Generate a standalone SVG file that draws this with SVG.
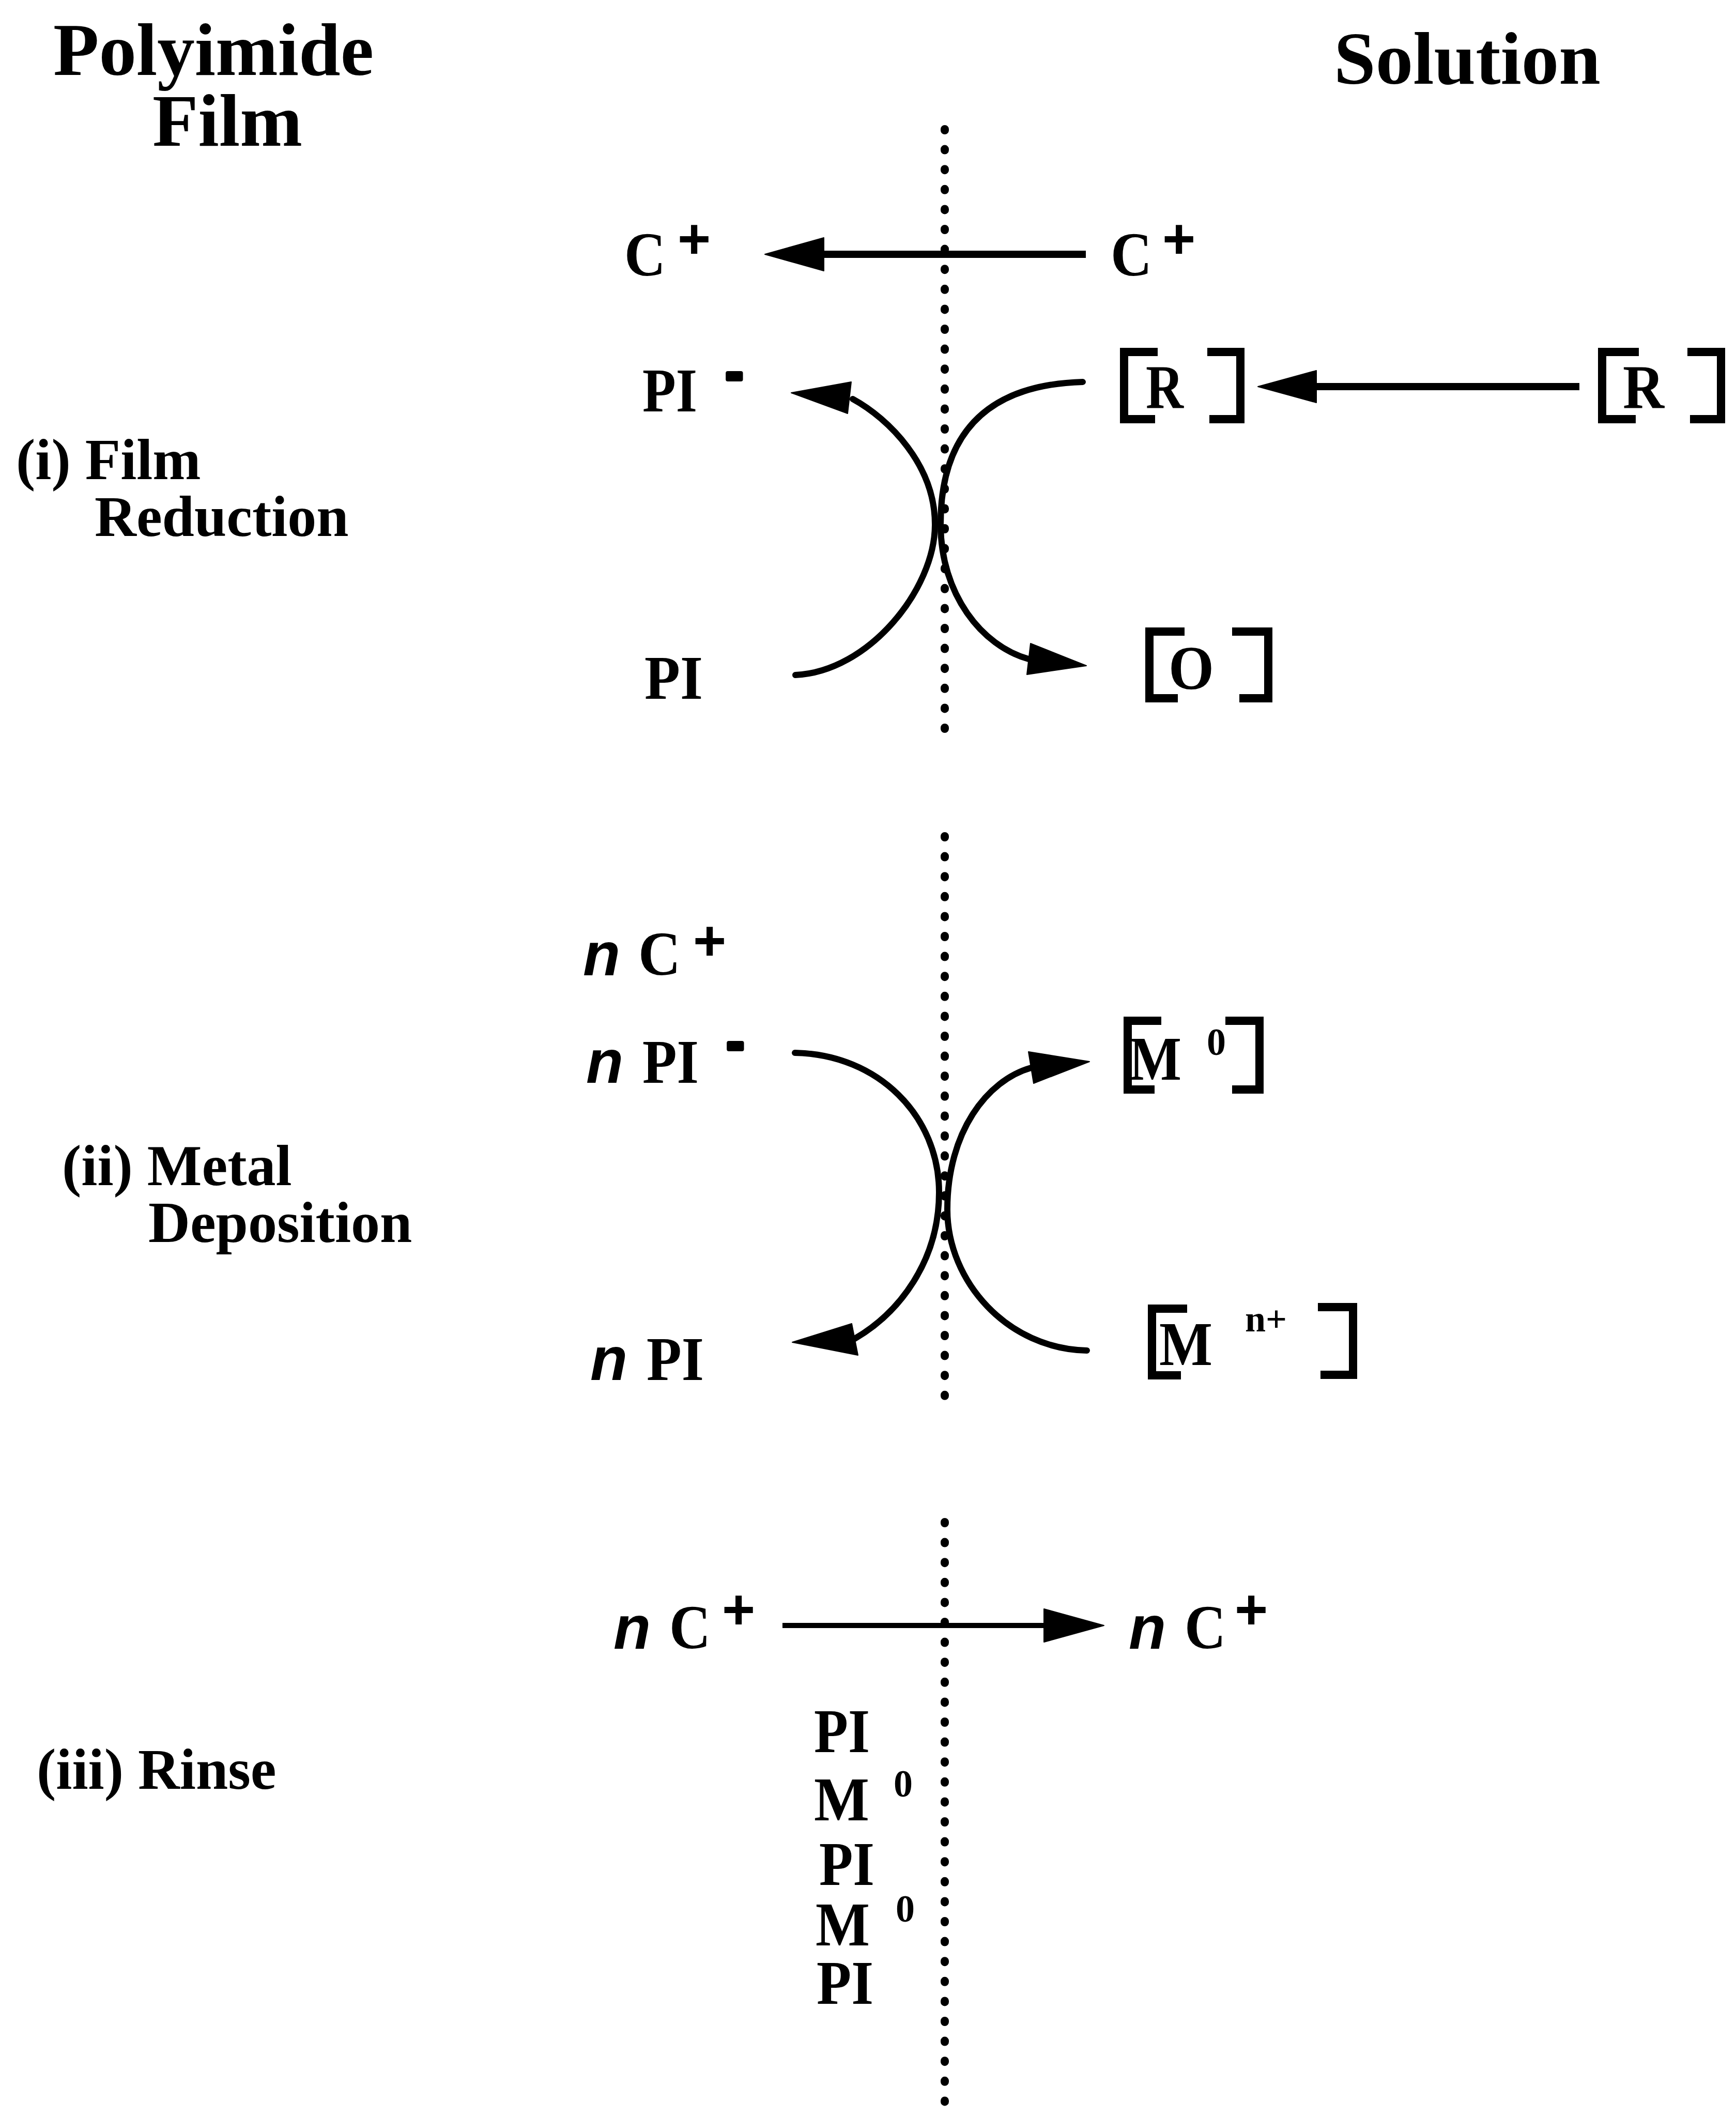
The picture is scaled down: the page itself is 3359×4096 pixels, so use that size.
<svg xmlns="http://www.w3.org/2000/svg" width="3359" height="4096" viewBox="0 0 3359 4096">
<style>
.t{font-family:"Liberation Serif","Times New Roman",serif;font-weight:bold;fill:#000}
.ttl{font-size:145px}
.lab{font-size:112px}
.chem{font-size:120px}
.s{font-family:"Liberation Sans",Arial,sans-serif;font-weight:bold;fill:#000}
.n{font-size:118px;font-style:italic}
.pl{font-size:110px}
.mi{font-size:100px;stroke:#000;stroke-width:8;stroke-linejoin:round}
.sup{font-size:72px}
.z{font-size:74px}
.br{fill:none;stroke:#000;stroke-width:16;stroke-linejoin:miter}
.ln{fill:none;stroke:#000;stroke-width:14}
.ln2{fill:none;stroke:#000;stroke-width:10}
.cv{fill:none;stroke:#000;stroke-width:12;stroke-linecap:round}
.hd{fill:#000;stroke:#000;stroke-width:2;stroke-linejoin:round}
.dot{fill:none;stroke:#000;stroke-width:16;stroke-linecap:round;stroke-dasharray:2 36.6}
</style>
<rect width="3359" height="4096" fill="#fff"/>

<g id="interface">
<line class="dot" x1="1828" y1="250" x2="1828" y2="1444"/>
<line class="dot" x1="1828" y1="1618" x2="1828" y2="2716"/>
<line class="dot" x1="1828" y1="2945" x2="1828" y2="4096"/>
</g>

<g id="headers">
<g id="title-film"><text class="t ttl" x="413" y="145" text-anchor="middle">Polyimide</text><text class="t ttl" x="440" y="282" text-anchor="middle">Film</text></g>
<g id="title-solution"><text class="t ttl" x="2839" y="162" text-anchor="middle">Solution</text></g>
<g id="step-i"><text class="t lab" x="31" y="927">(i) Film</text><text class="t lab" x="183" y="1037">Reduction</text></g>
<g id="step-ii"><text class="t lab" x="120" y="2293">(ii) Metal</text><text class="t lab" x="287" y="2403">Deposition</text></g>
<g id="step-iii"><text class="t lab" x="71" y="3461">(iii) Rinse</text></g>
</g>

<g id="connectors">
<line class="ln" x1="1590" y1="492" x2="2101" y2="492"/>
<polygon class="hd" points="1480,492 1594,460 1594,524"/>
<line class="ln" x1="2543" y1="748" x2="3056" y2="748"/>
<polygon class="hd" points="2434,748 2547,717 2547,779"/>
<path class="cv" d="M1539,1306 C1680,1300 1810,1140 1809,1014 C1809,900 1720,810 1650,772"/>
<polygon class="hd" points="1531,760 1647,739 1640,800"/>
<path class="cv" d="M2095,739 C1880,745 1820,870 1820,1014 C1820,1150 1900,1250 1990,1275"/>
<polygon class="hd" points="2102,1288 1994,1245 1987,1305"/>
<path class="cv" d="M1538,2037 C1700,2040 1817,2160 1817,2307 C1817,2440 1740,2540 1654,2590"/>
<polygon class="hd" points="1533,2597 1648,2561 1660,2622"/>
<path class="cv" d="M2103,2613 C1950,2610 1833,2480 1833,2340 C1833,2190 1910,2090 1995,2066"/>
<polygon class="hd" points="2108,2054 1990,2035 2000,2096"/>
<line class="ln2" x1="1514" y1="3145" x2="2024" y2="3145"/>
<polygon class="hd" points="2136,3145 2020,3113 2020,3177"/>
</g>

<g id="i-cation-film"><text class="t chem" x="1208" y="533" textLength="80" lengthAdjust="spacingAndGlyphs">C</text><text class="s pl" x="1311" y="500">+</text></g>
<g id="i-cation-sol"><text class="t chem" x="2149" y="533" textLength="80" lengthAdjust="spacingAndGlyphs">C</text><text class="s pl" x="2249" y="500">+</text></g>
<g id="i-pi-anion"><text class="t chem" x="1243" y="796" textLength="106" lengthAdjust="spacingAndGlyphs">PI</text><text class="s mi" x="1421" y="754" text-anchor="middle">-</text></g>
<g id="i-r-interface"><path class="br" d="M2240,681 H2175 V811 H2235"/><text class="t chem" x="2217" y="790" textLength="73" lengthAdjust="spacingAndGlyphs">R</text><path class="br" d="M2336,681 H2400 V811 H2340"/></g>
<g id="i-r-bulk"><path class="br" d="M3171,681 H3100 V811 H3165"/><text class="t chem" x="3140" y="790" textLength="80" lengthAdjust="spacingAndGlyphs">R</text><path class="br" d="M3265,681 H3330 V811 H3270"/></g>
<g id="i-pi"><text class="t chem" x="1247" y="1352" textLength="113" lengthAdjust="spacingAndGlyphs">PI</text></g>
<g id="i-o"><path class="br" d="M2292,1222 H2224 V1351 H2279"/><text class="t chem" x="2261" y="1333" textLength="88" lengthAdjust="spacingAndGlyphs">O</text><path class="br" d="M2384,1222 H2454 V1351 H2398"/></g>

<g id="ii-cation"><text class="s n" x="1128" y="1887">n</text><text class="t chem" x="1235" y="1886" textLength="82" lengthAdjust="spacingAndGlyphs">C</text><text class="s pl" x="1341" y="1858">+</text></g>
<g id="ii-pi-anion"><text class="s n" x="1134" y="2095">n</text><text class="t chem" x="1243" y="2095" textLength="109" lengthAdjust="spacingAndGlyphs">PI</text><text class="s mi" x="1423" y="2050" text-anchor="middle">-</text></g>
<g id="ii-m0"><path class="br" d="M2247,1975 H2182 V2108 H2234"/><text class="t chem" x="2185" y="2089" textLength="101" lengthAdjust="spacingAndGlyphs">M</text><text class="t z" x="2335" y="2041">0</text><path class="br" d="M2371,1975 H2437 V2108 H2384"/></g>
<g id="ii-pi"><text class="s n" x="1142" y="2670">n</text><text class="t chem" x="1251" y="2670" textLength="111" lengthAdjust="spacingAndGlyphs">PI</text></g>
<g id="ii-mn"><path class="br" d="M2297,2532 H2229 V2661 H2285"/><text class="t chem" x="2243" y="2641" textLength="103" lengthAdjust="spacingAndGlyphs">M</text><text class="t sup" x="2409" y="2576">n+</text><path class="br" d="M2550,2529 H2618 V2660 H2555"/></g>

<g id="iii-cation-film"><text class="s n" x="1187" y="3190">n</text><text class="t chem" x="1295" y="3189" textLength="80" lengthAdjust="spacingAndGlyphs">C</text><text class="s pl" x="1397" y="3152">+</text></g>
<g id="iii-cation-sol"><text class="s n" x="2184" y="3190">n</text><text class="t chem" x="2292" y="3189" textLength="80" lengthAdjust="spacingAndGlyphs">C</text><text class="s pl" x="2389" y="3152">+</text></g>
<g id="iii-stack">
<text class="t chem" x="1575" y="3390" textLength="108" lengthAdjust="spacingAndGlyphs">PI</text>
<text class="t chem" x="1575" y="3522" textLength="107" lengthAdjust="spacingAndGlyphs">M</text><text class="t z" x="1729" y="3476">0</text>
<text class="t chem" x="1585" y="3647" textLength="107" lengthAdjust="spacingAndGlyphs">PI</text>
<text class="t chem" x="1578" y="3764" textLength="105" lengthAdjust="spacingAndGlyphs">M</text><text class="t z" x="1733" y="3718">0</text>
<text class="t chem" x="1580" y="3877" textLength="110" lengthAdjust="spacingAndGlyphs">PI</text>
</g>
</svg>
